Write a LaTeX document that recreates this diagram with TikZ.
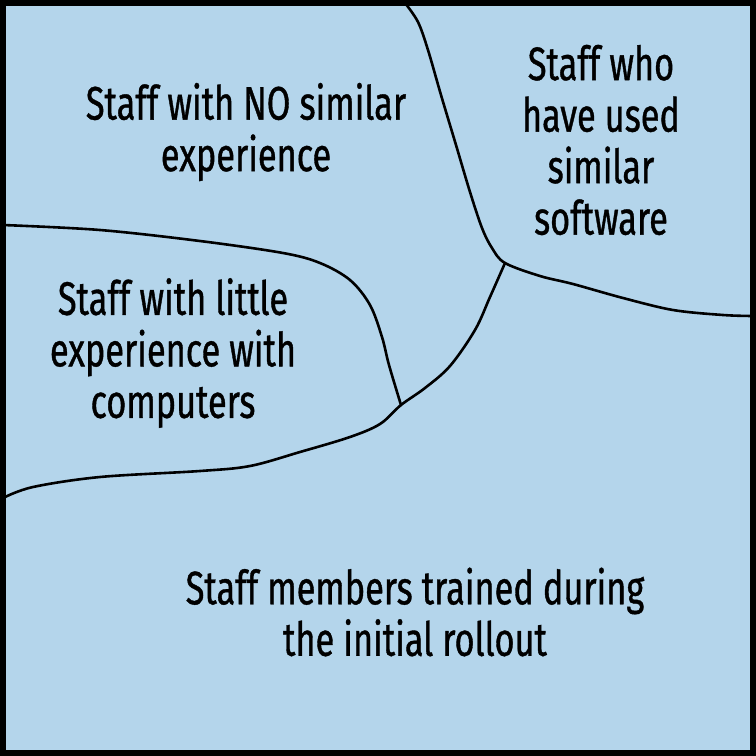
\documentclass[tikz,border=0pt]{standalone}
\usepackage{fontspec}
\setmainfont{Fira Sans}[FakeStretch=0.73,FakeBold=0.8]
\definecolor{bgblue}{HTML}{B4D5EB}
\begin{document}
\begin{tikzpicture}[x=1pt,y=-1pt,
  lbl/.style={align=center,font=\fontsize{47}{51.5}\selectfont,inner sep=0pt},
  divider/.style={line width=2.6pt,line cap=round,line join=round}]
\useasboundingbox (0,0) rectangle (756,756);
\fill[bgblue] (0,0) rectangle (756,756);
\coordinate (topstart) at (405,3);
\coordinate (junA) at (505,263);
\coordinate (rightend) at (753,316);
\coordinate (junB) at (401,405);
\coordinate (leftend) at (3,225);
\coordinate (blend) at (3,498);
\draw[divider] plot[smooth,tension=0.55] coordinates {(topstart) (418,22) (428,50) (441,95) (456,145) (470,192) (482,228) (492,248) (junA) (540,276) (573,284) (623,298) (673,310) (723,315) (rightend)};
\draw[divider] plot[smooth,tension=0.55] coordinates {(blend) (33,487) (100,477) (200,471) (250,466) (300,452) (350,437) (380,424) (junB) (425,388) (450,366) (475,330) (490,297) (junA)};
\draw[divider] plot[smooth,tension=0.55] coordinates {(leftend) (100,230) (200,241) (283,253) (320,263) (350,280) (370,305) (382,337) (389,365) (junB)};
\draw[line width=6pt] (3,3) rectangle (753,753);
\node[lbl] (noexp) at (246,132) {Staff with NO similar\\experience};
\node[lbl] (similar) at (601,140) {Staff who\\have used\\similar\\software};
\node[lbl] (little) at (173,353) {Staff with little\\experience with\\computers};
\node[lbl] (rollout) at (415,612) {Staff members trained during\\the initial rollout};
\end{tikzpicture}
\end{document}
